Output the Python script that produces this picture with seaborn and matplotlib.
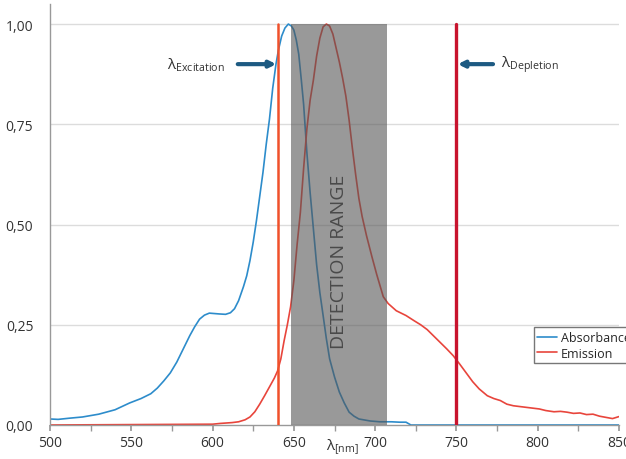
import numpy as np
import pandas as pd
import matplotlib
matplotlib.use("Agg")
import matplotlib.pyplot as plt
from matplotlib.lines import Line2D
import seaborn as sns

# Données
absorbance_nm = [500, 505, 512, 520, 530, 540, 549, 556, 562, 566, 570, 574, 578, 582, 586,
                 589, 592, 595, 598, 601, 604, 608, 611, 613.5, 616, 619, 621, 623, 625, 627,
                 629, 631, 633, 635, 637, 639, 640.5, 642.5, 644.5, 646.6, 648.5, 650, 651.5,
                 653, 654.6, 656, 658, 660, 662, 664, 666, 668, 670, 672, 675, 678, 681, 684,
                 687, 690, 697, 703, 710, 715, 719, 722, 730, 850]
absorbance = [0.015, 0.014, 0.017, 0.02, 0.027, 0.038, 0.055, 0.066, 0.078, 0.092, 0.11, 0.13,
              0.157, 0.19, 0.223, 0.245, 0.264, 0.274, 0.279, 0.278, 0.277, 0.276, 0.28, 0.29,
              0.31, 0.345, 0.372, 0.41, 0.456, 0.51, 0.57, 0.63, 0.70, 0.763, 0.84, 0.9, 0.935,
              0.97, 0.99, 1.0, 0.995, 0.985, 0.96, 0.925, 0.86, 0.8, 0.68, 0.58, 0.49, 0.40,
              0.33, 0.273, 0.215, 0.165, 0.12, 0.082, 0.055, 0.032, 0.022, 0.015, 0.01, 0.008,
              0.008, 0.007, 0.007, 0.0, 0.0, 0.0]

emission_nm = [500, 600, 605, 612, 616, 620, 623, 626, 629, 632, 635, 638, 640, 642, 644, 646,
               648, 650, 652, 654, 656, 658, 660, 662, 664, 666, 668, 670, 672, 674, 676, 678,
               680, 682, 684, 686, 688, 690, 692, 694.7, 698, 701, 705, 708, 713, 719, 724, 728,
               732, 736, 740, 744, 748, 752, 756, 760, 764, 769, 773, 777, 781, 785, 789, 793,
               797, 801, 805, 810, 814, 818, 822, 826, 830, 834, 838, 842, 846, 850]
emission = [0.0, 0.002, 0.004, 0.006, 0.008, 0.013, 0.02, 0.033, 0.052, 0.073, 0.095, 0.117,
            0.135, 0.165, 0.21, 0.25, 0.295, 0.36, 0.45, 0.53, 0.64, 0.738, 0.81, 0.86, 0.92,
            0.965, 0.993, 1.0, 0.995, 0.975, 0.94, 0.905, 0.865, 0.82, 0.76, 0.69, 0.625, 0.565,
            0.52, 0.472, 0.42, 0.375, 0.32, 0.303, 0.285, 0.273, 0.26, 0.25, 0.238, 0.222,
            0.206, 0.19, 0.173, 0.152, 0.13, 0.108, 0.09, 0.073, 0.066, 0.061, 0.052, 0.048,
            0.046, 0.044, 0.042, 0.04, 0.036, 0.033, 0.034, 0.032, 0.029, 0.03, 0.026, 0.027,
            0.022, 0.019, 0.016, 0.021]

series_names = ["Absorbance", "Emission"]
series_colors = ["#2d8ccb", "#e8453c"]

y_ticks = [0.0, 0.25, 0.5, 0.75, 1.0]
y_tick_labels = ["0,00", "0,25", "0,50", "0,75", "1,00"]
x_ticks = [500, 550, 600, 650, 700, 750, 800, 850]

excitation_nm = 640
depletion_nm = 750
detection_range = (648.5, 707.5)

df = pd.concat([
    pd.DataFrame({"nm": absorbance_nm, "value": absorbance, "series": "Absorbance"}),
    pd.DataFrame({"nm": emission_nm, "value": emission, "series": "Emission"}),
])

sns.set_theme(style="white")
plt.rcParams["font.family"] = ["Open Sans", "DejaVu Sans"]
plt.rcParams["mathtext.fontset"] = "custom"
plt.rcParams["mathtext.rm"] = "Open Sans"
plt.rcParams["mathtext.it"] = "Open Sans:italic"

fig = plt.figure(figsize=(6.26, 4.6), dpi=100)
ax = fig.add_axes([50 / 626, 34 / 460, 569 / 626, 421 / 460])

for y in y_ticks[1:]:
    ax.axhline(y, color="#dcdcdc", lw=1, zorder=0)

sns.lineplot(data=df, x="nm", y="value", hue="series", hue_order=series_names,
             palette=series_colors, lw=1.2, legend=False, ax=ax, zorder=2)

# zone de détection
ax.fill_between(detection_range, 0, 1.0, color="#555555", alpha=0.6, lw=0, zorder=3)
ax.text(sum(detection_range) / 2, 0.41, "DETECTION RANGE", rotation=90, ha="center",
        va="center", fontsize=14, color="#4a4a4a", zorder=4)

# lignes laser
ax.plot([excitation_nm, excitation_nm], [0, 1.0], color="#f0502a", lw=1.8, zorder=4)
ax.plot([depletion_nm, depletion_nm], [0, 1.0], color="#c8142e", lw=2.4, zorder=4)

arrow = dict(arrowstyle="-|>", lw=3, color="#1d5a82", mutation_scale=9, shrinkA=0, shrinkB=0)
ax.annotate("", xy=(excitation_nm - 0.8, 0.90), xytext=(615.5, 0.90), arrowprops=arrow, zorder=5)
ax.annotate("", xy=(depletion_nm + 0.8, 0.90), xytext=(772.5, 0.90), arrowprops=arrow, zorder=5)
ax.text(572, 0.90, r"$\mathrm{\lambda}_{\mathrm{Excitation}}$", fontsize=11,
        ha="left", va="center", color="#333333")
ax.text(777.5, 0.90, r"$\mathrm{\lambda}_{\mathrm{Depletion}}$", fontsize=11,
        ha="left", va="center", color="#333333")

ax.set_xlim(500, 850)
ax.set_ylim(0, 1.05)
ax.set_xticks(x_ticks)
ax.set_xticks(np.arange(525, 850, 50), minor=True)
ax.set_yticks(y_ticks)
ax.set_yticklabels(y_tick_labels)
ax.tick_params(axis="x", which="both", direction="out", length=4, color="#999999",
               bottom=True, labelsize=10, pad=3, labelcolor="#333333")
ax.tick_params(axis="y", length=0, labelsize=10, pad=12, labelcolor="#333333")
ax.set_xlabel("")
ax.set_ylabel("")
ax.text(680, -0.062, r"$\mathrm{\lambda}_{\mathrm{[nm]}}$", fontsize=11, ha="center",
        va="baseline", color="#333333", clip_on=False)

for side in ["top", "right"]:
    ax.spines[side].set_visible(False)
for side in ["left", "bottom"]:
    ax.spines[side].set_color("#999999")
    ax.spines[side].set_linewidth(1)

handles = [Line2D([0], [0], color=c, lw=1.2) for c in series_colors]
leg = ax.legend(handles, series_names, loc="upper left", bbox_to_anchor=(0.85, 0.232),
                frameon=True, fancybox=False, fontsize=9, handlelength=1.6,
                handletextpad=0.3, borderpad=0.3, labelspacing=0.2, borderaxespad=0)
leg.get_frame().set_edgecolor("#555555")
leg.get_frame().set_linewidth(1)

fig.savefig("out.png", dpi=100)
